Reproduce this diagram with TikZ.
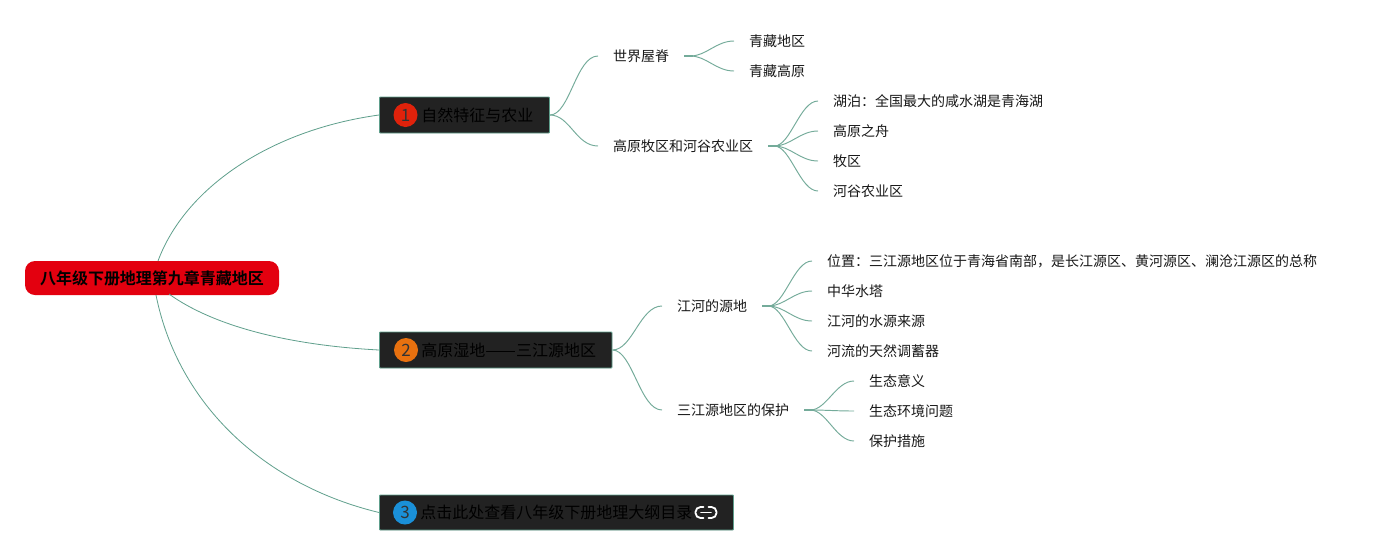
\documentclass[tikz,border=0pt]{standalone}
\usepackage{fontspec}
\setmainfont{Noto Sans CJK SC}[BoldFont={Noto Sans CJK SC Bold}]
\definecolor{linkc}{HTML}{5F9F8C}
\definecolor{linkl}{HTML}{74AB9A}
\definecolor{boxc}{HTML}{222222}
\definecolor{rootc}{HTML}{E3000F}
\definecolor{bOne}{HTML}{E0220B}
\definecolor{bTwo}{HTML}{E8710F}
\definecolor{bThree}{HTML}{1A90D8}
\tikzset{
  conn/.style={draw=linkc,line width=0.8pt},
  twig/.style={draw=linkl,line width=0.95pt},
  stub/.style={draw=linkl,line width=1.7pt},
  leaf/.style={anchor=west,inner xsep=15pt,inner ysep=0pt,font=\fontsize{14pt}{16pt}\selectfont,text=black!90},
  topicbox/.style={anchor=west,draw=linkc,fill=boxc,line width=0.9pt,minimum height=36pt,inner xsep=0pt,inner ysep=0pt,rounded corners=0.8pt,font=\fontsize{16pt}{18pt}\selectfont,text=black},
  rootbox/.style={anchor=center,fill=rootc,rounded corners=10pt,minimum width=254pt,minimum height=34pt,inner sep=0pt,font=\fontsize{16pt}{18pt}\selectfont\bfseries,text=black},
  badge/.style={circle,minimum size=24pt,inner sep=0pt,font=\fontsize{17pt}{18pt}\selectfont,text=black!80},
  iconline/.style={white,line width=1.8pt,line cap=round},
}
\begin{document}
\begin{tikzpicture}[x=1pt,y=-1pt]
\useasboundingbox (0,0) rectangle (1377,555);
\fill[white] (0,0) rectangle (1377,555);

\node[rootbox] (root) at (152,278) {八年级下册地理第九章青藏地区};
\coordinate (rootA) at (158,261);
\coordinate (rootB) at (169,294);
\coordinate (rootC) at (156,295);

\node[topicbox] (t1) at (379,115) {\hspace*{42pt}自然特征与农业\hspace*{16pt}};
\node[topicbox] (t2) at (379,350) {\hspace*{42pt}高原湿地\scalebox{1.14}[1]{——}三江源地区\hspace*{16pt}};
\node[topicbox,minimum height=35pt] (t3) at (379,512.5) {\hspace*{41pt}点击此处查看八年级下册地理大纲目录\hspace*{41pt}};

\node[badge,fill=bOne] (b1) at (405.5,115) {1};
\node[badge,fill=bTwo] (b2) at (406,350) {2};
\node[badge,fill=bThree] (b3) at (405,512.5) {3};

% link icon
\draw[iconline,rounded corners=5pt] (703.5,507) -- (695.5,507) -- (695.5,518) -- (703.5,518);
\draw[iconline,rounded corners=5pt] (708.5,507) -- (716.5,507) -- (716.5,518) -- (708.5,518);
\draw[iconline] (701,512.5) -- (711,512.5);

\node[leaf] (a1) at (598,56) {世界屋脊};
\node[leaf] (a2) at (598,146) {高原牧区和河谷农业区};
\node[leaf] (a11) at (734,41) {青藏地区};
\node[leaf] (a12) at (734,71) {青藏高原};
\node[leaf] (a21) at (818,101) {湖泊：全国最大的咸水湖是青海湖};
\node[leaf] (a22) at (818,131) {高原之舟};
\node[leaf] (a23) at (818,161) {牧区};
\node[leaf] (a24) at (818,191) {河谷农业区};

\node[leaf] (c1) at (662,306) {江河的源地};
\node[leaf] (c2) at (662,410) {三江源地区的保护};
\node[leaf] (c11) at (812,261) {位置：三江源地区位于青海省南部，是长江源区、黄河源区、澜沧江源区的总称};
\node[leaf] (c12) at (812,291) {中华水塔};
\node[leaf] (c13) at (812,321) {江河的水源来源};
\node[leaf] (c14) at (812,351) {河流的天然调蓄器};
\node[leaf] (c21) at (854,381) {生态意义};
\node[leaf] (c22) at (854,411) {生态环境问题};
\node[leaf] (c23) at (854,441) {保护措施};

\draw[conn] (rootA) .. controls (185,188) and (270,130) .. (t1.west);
\draw[conn] (rootB) .. controls (212,325) and (285,345) .. (t2.west);
\draw[conn] (rootC) .. controls (178,405) and (265,485) .. (t3.west);

\foreach \p/\c in {t1/a1,t1/a2,t2/c1,t2/c2}
  \draw[twig] (\p.east) .. controls +(20,0) and +(-22,0) .. (\c.west);

\foreach \p in {a1,a2,c1,c2}
  \draw[stub] (\p.east) -- ++(9,0);

\foreach \p/\c in {a1/a11,a1/a12,a2/a21,a2/a22,a2/a23,a2/a24,c1/c11,c1/c12,c1/c13,c1/c14,c2/c21,c2/c22,c2/c23}
  \draw[twig] (\p.east) -- ++(6,0) .. controls +(16,0) and +(-18,0) .. (\c.west);
\end{tikzpicture}
\end{document}
